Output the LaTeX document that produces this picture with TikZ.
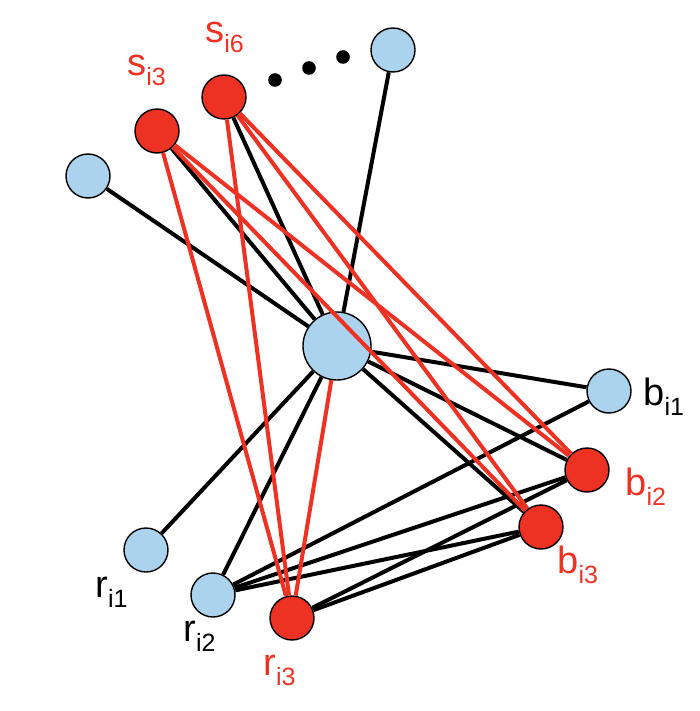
\documentclass[tikz,border=0pt]{standalone}
\usepackage{fontspec}
\setmainfont{Liberation Sans}
\usetikzlibrary{backgrounds}
\definecolor{nodeblue}{RGB}{172,211,238}
\definecolor{nodered}{RGB}{237,50,36}
\newcommand{\lbl}[2]{#1\raisebox{-5pt}{\fontsize{12.5}{13}\selectfont #2}}
\tikzset{
	vtx/.style={circle,draw=black,line width=0.7pt,inner sep=0pt,minimum size=22pt},
	bluevtx/.style={vtx,fill=nodeblue},
	redvtx/.style={vtx,fill=nodered},
	blackedge/.style={line width=2pt,black},
	rededge/.style={line width=2pt,nodered},
	lab/.style={anchor=base west,inner sep=0pt,font=\fontsize{19}{21}\selectfont},
	dotnode/.style={circle,fill=black,inner sep=0pt,minimum size=6.8pt}
}
\begin{document}
\begin{tikzpicture}[x=0.5pt,y=-0.5pt]
	\useasboundingbox (0,0) rectangle (700,711);
	% draw the nodes
	\node[bluevtx,minimum size=34pt] (c) at (337,346) {};
	\node[bluevtx] (l) at (88,176) {};
	\node[bluevtx] (t) at (393,50) {};
	\node[redvtx] (s3) at (157,131) {};
	\node[redvtx] (s6) at (224,97) {};
	\node[bluevtx] (b1) at (609,391) {};
	\node[redvtx] (b2) at (587,470) {};
	\node[redvtx] (b3) at (541,527) {};
	\node[bluevtx] (r1) at (146,550) {};
	\node[bluevtx] (r2) at (213,595) {};
	\node[redvtx] (r3) at (292,618) {};
	\foreach \i/\x/\y in {1/275/80,2/309/68,3/343/57}{\node[dotnode] (d\i) at (\x,\y) {};}
	% draw the labels
	\node[lab,nodered] (ls3) at (127,76) {\lbl{s}{i3}};
	\node[lab,nodered] (ls6) at (205,43) {\lbl{s}{i6}};
	\node[lab] (lb1) at (643,405) {\lbl{b}{i1}};
	\node[lab,nodered] (lb2) at (625,495) {\lbl{b}{i2}};
	\node[lab,nodered] (lb3) at (557,573) {\lbl{b}{i3}};
	\node[lab] (lr1) at (95,597) {\lbl{r}{i1}};
	\node[lab] (lr2) at (183,641) {\lbl{r}{i2}};
	\node[lab,nodered] (lr3) at (263,675) {\lbl{r}{i3}};
	% black edges behind the nodes
	\begin{pgfonlayer}{background}
	\foreach \a in {l,s3,s6,t,b1,b2,b3,r1,r2}{\draw[blackedge] (c)--(\a);}
	\foreach \a/\b in {r2/b1,r2/b2,r2/b3,r3/b2,r3/b3}{\draw[blackedge] (\a)--(\b);}
	\end{pgfonlayer}
	% red edges on top
	\foreach \a/\b in {s3/r3,s3/b2,s3/b3,s6/r3,s6/b2,s6/b3,c/r3}{\draw[rededge] (\a)--(\b);}
\end{tikzpicture}
\end{document}
